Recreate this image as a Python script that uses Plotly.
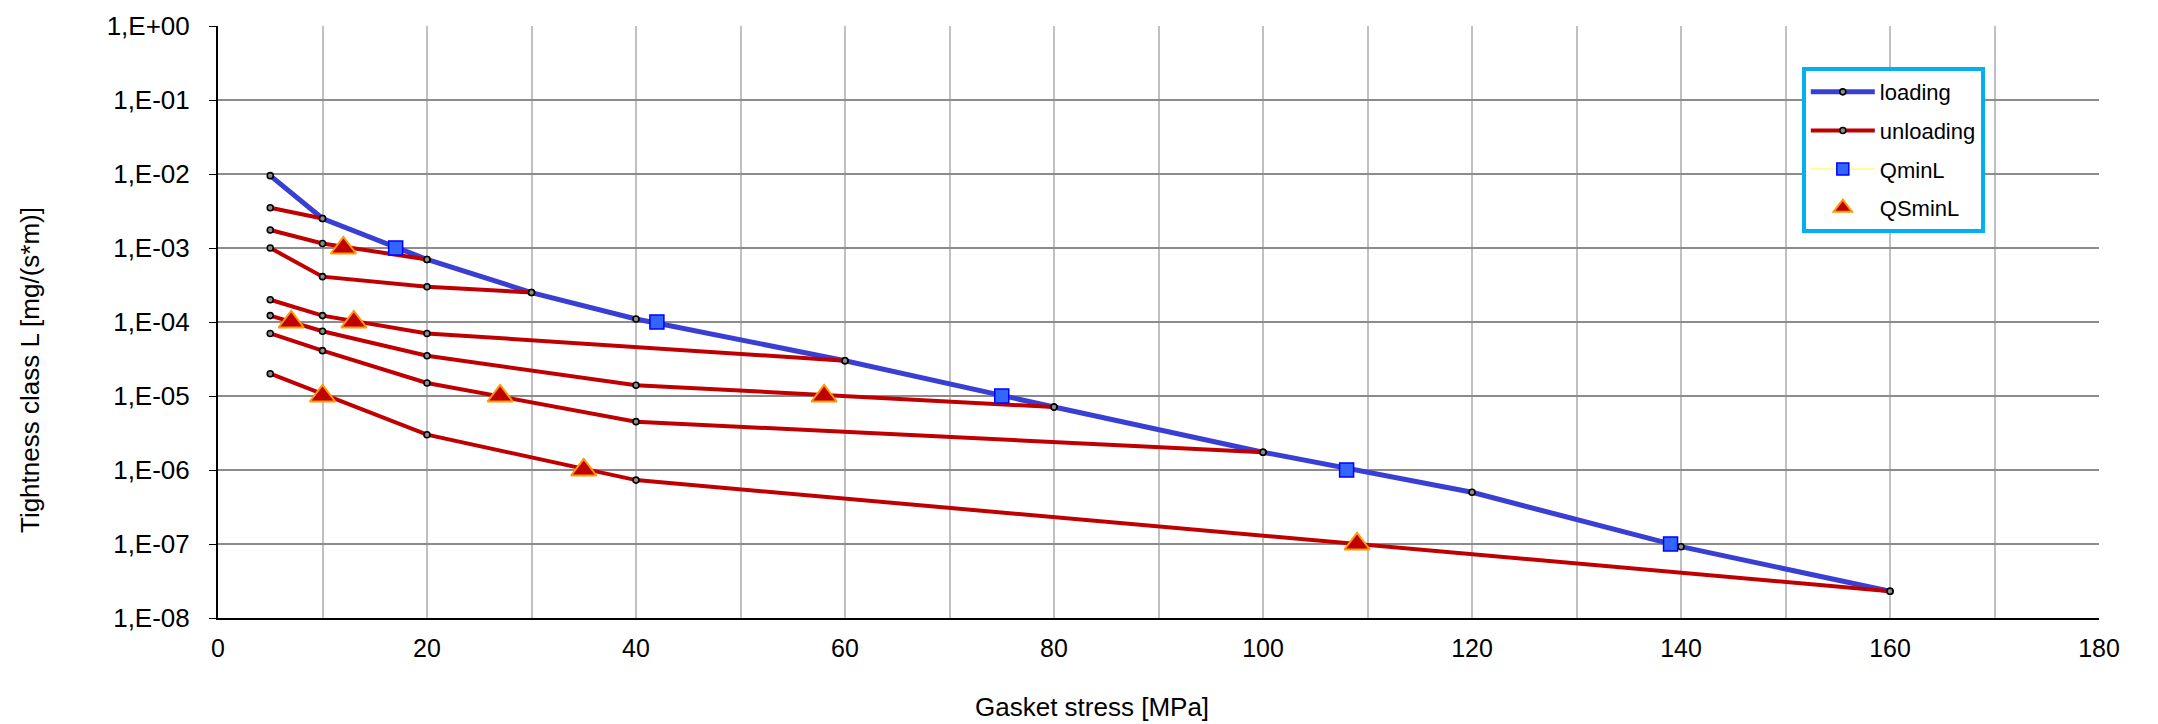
import plotly.graph_objects as go

# ---- data ----
load_x = [5, 10, 20, 30, 40, 60, 80, 100, 120, 140, 160]
load_y = [9.5e-3, 2.5e-3, 7e-4, 2.5e-4, 1.1e-4, 3e-5, 7.1e-6, 1.74e-6, 5e-7, 9.2e-8, 2.3e-8]

unl_A_x = [5, 10]
unl_A_y = [3.5e-3, 2.5e-3]
unl_B_x = [5, 10, 20]
unl_B_y = [1.75e-3, 1.15e-3, 7e-4]
unl_C_x = [5, 10, 20, 30]
unl_C_y = [1.0e-3, 4.1e-4, 3.0e-4, 2.5e-4]
unl_D_x = [5, 10, 20, 60]
unl_D_y = [2.0e-4, 1.22e-4, 7e-5, 3e-5]
unl_E_x = [5, 10, 20, 40, 80]
unl_E_y = [1.22e-4, 7.5e-5, 3.5e-5, 1.4e-5, 7.1e-6]
unl_F_x = [5, 10, 20, 40, 100]
unl_F_y = [7e-5, 4.1e-5, 1.5e-5, 4.5e-6, 1.74e-6]
unl_G_x = [5, 20, 40, 160]
unl_G_y = [2.0e-5, 3.0e-6, 7.3e-7, 2.3e-8]

qmin_x = [17, 42, 75, 108, 139]
qmin_y = [1e-3, 1e-4, 1e-5, 1e-6, 1e-7]

qsmin_x = [12, 7, 13, 10, 27, 58, 35, 109]
qsmin_y = [1e-3, 1e-4, 1e-4, 1e-5, 1e-5, 1e-5, 1e-6, 1e-7]

y_tickvals = [1e0, 1e-1, 1e-2, 1e-3, 1e-4, 1e-5, 1e-6, 1e-7, 1e-8]
y_ticktext = ["1,E+00", "1,E-01", "1,E-02", "1,E-03", "1,E-04", "1,E-05", "1,E-06", "1,E-07", "1,E-08"]
x_tickvals = [0, 20, 40, 60, 80, 100, 120, 140, 160, 180]

x_title = "Gasket stress [MPa]"
y_title = "Tightness class L [mg/(s*m)]"

BLUE = "#3a3fd4"
RED = "#c00000"
FONT = "Liberation Sans, Arial, sans-serif"
dot = dict(symbol="circle", size=6, color="#8c8c8c", line=dict(color="black", width=1.6))

fig = go.Figure()

fig.add_trace(go.Scatter(x=load_x, y=load_y, mode="lines+markers", name="loading",
                         line=dict(color=BLUE, width=5), marker=dot,
                         legendgroup="g1", legendrank=1))

unloading = [(unl_A_x, unl_A_y), (unl_B_x, unl_B_y), (unl_C_x, unl_C_y), (unl_D_x, unl_D_y),
             (unl_E_x, unl_E_y), (unl_F_x, unl_F_y), (unl_G_x, unl_G_y)]
for i, (ux, uy) in enumerate(unloading):
    fig.add_trace(go.Scatter(x=ux, y=uy, mode="lines+markers", name="unloading",
                             line=dict(color=RED, width=4), marker=dot,
                             legendgroup="g2", showlegend=(i == 0), legendrank=2))

fig.add_trace(go.Scatter(x=qmin_x, y=qmin_y, mode="markers", name="QminL",
                         marker=dict(symbol="square", size=14, color="#3366ff",
                                     line=dict(color="#0000ff", width=1.5)),
                         legendgroup="g3", showlegend=False))
fig.add_trace(go.Scatter(x=[None], y=[None], mode="lines+markers", name="QminL",
                         line=dict(color="#ffff99", width=2),
                         marker=dict(symbol="square", size=12, color="#3366ff",
                                     line=dict(color="#0000ff", width=1.5)),
                         legendgroup="g3", legendrank=3))

fig.add_trace(go.Scatter(x=qsmin_x, y=qsmin_y, mode="markers", name="QSminL",
                         marker=dict(symbol="triangle-up", size=22, color=RED,
                                     line=dict(color="#ff9900", width=2)),
                         legendgroup="g4", legendrank=4))

fig.update_layout(
    width=2158, height=724,
    paper_bgcolor="white", plot_bgcolor="white",
    margin=dict(l=210, r=67, t=18, b=114, autoexpand=False),
    font=dict(family=FONT, size=25, color="black"),
    legend=dict(x=0.842, y=0.9307, xanchor="left", yanchor="top",
                bordercolor="#00b0f0", borderwidth=4, bgcolor="white",
                font=dict(size=22), tracegroupgap=7, traceorder="grouped",
                itemwidth=64),
    showlegend=True,
    annotations=[
        dict(text=x_title, xref="paper", yref="paper", x=0.4647, y=-0.150,
             xanchor="center", yanchor="middle", showarrow=False, font=dict(size=26)),
        dict(text=y_title, xref="paper", yref="paper", x=-0.0999, y=0.419,
             xanchor="center", yanchor="middle", showarrow=False, textangle=-90,
             font=dict(size=26)),
    ],
)

fig.update_xaxes(
    range=[0, 180], tickvals=x_tickvals, showgrid=True, gridcolor="#c0c0c0", gridwidth=1.5,
    minor=dict(dtick=10, showgrid=True, gridcolor="#c0c0c0", gridwidth=1.5),
    showline=True, linecolor="black", linewidth=2, ticks="", ticklabelstandoff=7,
    zeroline=False, tickfont=dict(size=25),
)
fig.update_yaxes(
    type="log", range=[-8, 0], tickvals=y_tickvals, ticktext=y_ticktext,
    showgrid=True, gridcolor="#8c8c8c", gridwidth=1.5,
    showline=True, linecolor="black", linewidth=2, ticks="outside", ticklen=7,
    tickcolor="black", ticklabelstandoff=14, zeroline=False, tickfont=dict(size=26),
)

fig.write_html("out.html")
